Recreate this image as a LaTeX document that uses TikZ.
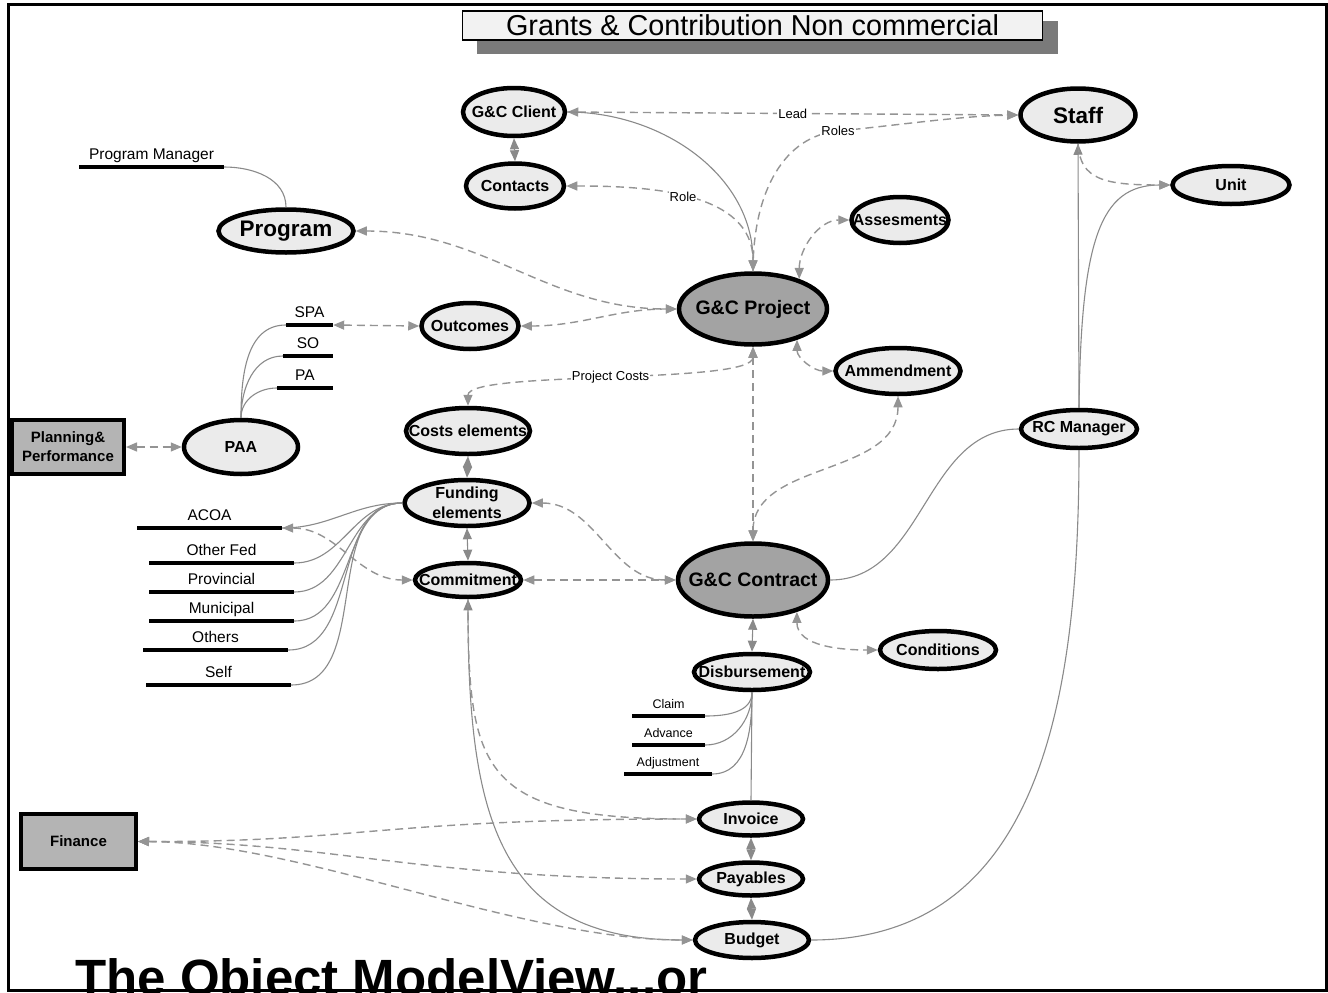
\documentclass[tikz,border=0pt]{standalone}
\usepackage{fontspec}
\setmainfont{Liberation Sans}
\usetikzlibrary{shapes.geometric,arrows.meta}

\definecolor{entfill}{HTML}{EBEBEB}
\definecolor{corefill}{HTML}{A3A3A3}
\definecolor{deptfill}{HTML}{B4B4B4}
\definecolor{linkgray}{HTML}{8A8A8A}
\definecolor{dashgray}{HTML}{949494}
\definecolor{shadowgray}{HTML}{7A7A7A}
\definecolor{titlefill}{HTML}{F2F2F2}

\newcommand\txtsize[1]{\fontsize{#1}{#1}\selectfont}

\begin{document}
\begin{tikzpicture}[x=1pt,y=-1pt,
  >={Triangle[length=11pt,width=9pt]},
  ent/.style={ellipse, draw=black, line width=4.5pt, fill=entfill, inner sep=0pt},
  core/.style={ent, fill=corefill},
  dept/.style={rectangle, draw=black, line width=4pt, fill=deptfill, inner sep=0pt,
    align=center, font=\bfseries\txtsize{15}},
  etxt/.style={font=\bfseries\txtsize{#1}, align=center, inner sep=0pt},
  etxt/.default=16,
  bar/.style={rectangle, fill=black, inner sep=0pt, minimum height=4pt},
  btxt/.style={font=\txtsize{#1}, inner sep=0pt, anchor=base},
  btxt/.default=15.5,
  link/.style={draw=linkgray, line width=1.1pt},
  dlink/.style={draw=dashgray, line width=1.4pt, dash pattern=on 8pt off 5pt},
  elbl/.style={fill=white, inner sep=1pt, font=\txtsize{13}}
]
\useasboundingbox (0,0) rectangle (1328,993);
\clip (0,0) rectangle (1328,993);

% outer frame
\draw[line width=3pt] (8,4) rectangle (1326,990);

% heading with drop shadow
\node[fill=shadowgray, minimum width=581, minimum height=33, inner sep=0pt] (title-shadow) at (767.5,37.5) {};
\node[draw=black, line width=1.2pt, fill=titlefill, minimum width=580, minimum height=29,
  inner sep=0pt, font=\txtsize{28.8}] (title) at (752.5,25.5) {Grants \& Contribution Non commercial};

% entities
\node[ent, minimum width=102, minimum height=48, label={[etxt]center:G\&C Client}] (client) at (514,112) {};
\node[ent, minimum width=98, minimum height=45, label={[etxt]center:Contacts}] (contacts) at (515,186) {};
\node[ent, minimum width=135, minimum height=43, label={[etxt=22.5]center:Program}] (program) at (286,231) {};
\node[ent, minimum width=115, minimum height=53, label={[etxt=22.5]center:Staff}] (staff) at (1078,115) {};
\node[ent, minimum width=117, minimum height=38, label={[etxt]center:Unit}] (unit) at (1231,185) {};
\node[ent, minimum width=97, minimum height=46, label={[etxt]center:Assesments}] (assess) at (900,220) {};
\node[core, minimum width=148, minimum height=71, label={[etxt=19.5]center:G\&C Project}] (project) at (753,309) {};
\node[ent, minimum width=97, minimum height=46, label={[etxt]center:Outcomes}] (outcomes) at (470,326) {};
\node[ent, minimum width=125, minimum height=46, label={[etxt]center:Ammendment}] (ammend) at (898,371) {};
\node[ent, minimum width=124, minimum height=46, label={[etxt]center:Costs elements}] (costs) at (468,431) {};
\node[ent, minimum width=114, minimum height=54, label={[etxt]center:PAA}] (paa) at (241,447) {};
\node[dept, minimum width=112, minimum height=54] (planning) at (68,447) {Planning\&\\[4pt]Performance};
\node[ent, minimum width=116, minimum height=38, label={[etxt]center:RC Manager}] (rcm) at (1079,429) {};
\node[ent, minimum width=125, minimum height=46, label={[etxt]center:Funding\\[4pt]elements}] (funding) at (467,503) {};
\node[ent, minimum width=106, minimum height=34, label={[etxt]center:Commitment}] (commit) at (468,580) {};
\node[core, minimum width=150, minimum height=73, label={[etxt=19.5]center:G\&C Contract}] (contract) at (753,580) {};
\node[ent, minimum width=116, minimum height=38, label={[etxt]center:Conditions}] (cond) at (938,650) {};
\node[ent, minimum width=116, minimum height=36, label={[etxt]center:Disbursement}] (disb) at (752,672) {};
\node[ent, minimum width=104, minimum height=33, label={[etxt]center:Invoice}] (invoice) at (751,819) {};
\node[ent, minimum width=104, minimum height=33, label={[etxt]center:Payables}] (payables) at (751,879) {};
\node[ent, minimum width=114, minimum height=36, label={[etxt]center:Budget}] (budget) at (752,940) {};
\node[dept, minimum width=115, minimum height=55] (finance) at (78.5,841.5) {Finance};

% attribute bars with their captions
\node[bar, minimum width=145] (pmgr) at (151.5,167) {};
\node[btxt] (pmgr-t) at ([yshift=5pt]pmgr.north) {Program Manager};
\node[bar, minimum width=47] (spa) at (309.5,325) {};
\node[btxt] (spa-t) at ([yshift=5pt]spa.north) {SPA};
\node[bar, minimum width=50] (so) at (308,356) {};
\node[btxt] (so-t) at ([yshift=5pt]so.north) {SO};
\node[bar, minimum width=56] (pa) at (305,388) {};
\node[btxt] (pa-t) at ([yshift=5pt]pa.north) {PA};
\node[bar, minimum width=145] (acoa) at (209.5,528) {};
\node[btxt] (acoa-t) at ([yshift=5pt]acoa.north) {ACOA};
\node[bar, minimum width=145] (ofed) at (221.5,563) {};
\node[btxt] (ofed-t) at ([yshift=5pt]ofed.north) {Other Fed};
\node[bar, minimum width=145] (prov) at (221.5,592) {};
\node[btxt] (prov-t) at ([yshift=5pt]prov.north) {Provincial};
\node[bar, minimum width=145] (muni) at (221.5,621) {};
\node[btxt] (muni-t) at ([yshift=5pt]muni.north) {Municipal};
\node[bar, minimum width=145] (oth) at (215.5,650) {};
\node[btxt] (oth-t) at ([yshift=5pt]oth.north) {Others};
\node[bar, minimum width=145] (self) at (218.5,685) {};
\node[btxt] (self-t) at ([yshift=5pt]self.north) {Self};
\node[bar, minimum width=73] (claim) at (668.5,716) {};
\node[btxt=12.5] (claim-t) at ([yshift=5pt]claim.north) {Claim};
\node[bar, minimum width=73] (adv) at (668.5,745) {};
\node[btxt=12.5] (adv-t) at ([yshift=5pt]adv.north) {Advance};
\node[bar, minimum width=88] (adj) at (668,774) {};
\node[btxt=12.5] (adj-t) at ([yshift=5pt]adj.north) {Adjustment};

% attribute links
\draw[link] (pmgr.east) to[out=0,in=90] (program.north);
\foreach \b in {spa,so,pa} \draw[link] (paa.north) to[out=90,in=180] (\b.west);
\foreach \b in {acoa,ofed,prov,muni,oth,self} \draw[link] (funding.west) to[out=180,in=0] (\b.east);
\foreach \b in {claim,adv,adj} \draw[link] (disb.south) to[out=-90,in=0] (\b.east);
\draw[link] (disb.south) -- (invoice.north);

% stacked one-to-one links
\draw[link,<->] (client.south) -- (contacts.north);
\draw[link,<->] (costs.south) -- (funding.north);
\draw[link,<->] (funding.south) -- (commit.north);
\draw[link,<->] (contract.south) -- (disb.north);
\draw[link,<->] (invoice.south) -- (payables.north);
\draw[link,<->] (payables.south) -- (budget.north);

% client, contacts and staff
\draw[dlink,<->] (client.east) -- node[elbl]{Lead} (staff.west);
\draw[link,->] (client.east) to[out=0,in=90] (project.north);
\draw[dlink,<->] (contacts.east) to[out=0,in=90] node[elbl,pos=0.47]{Role} (project.north);
\draw[dlink,->] (project.north) .. controls (753,190) and (785,136) .. (838,131) node[elbl]{Roles}
  .. controls (900,125) and (960,116) .. (staff.west);

% project relations
\draw[dlink,<->] (project.33) to[out=90,in=180] (assess.west);
\draw[dlink,<->] (project.-35) to[out=-90,in=180] (ammend.west);
\draw[dlink,<->] (program.east) to[out=0,in=180] (project.west);
\draw[dlink,<->] (outcomes.east) to[out=0,in=180] (project.west);
\draw[dlink,<->] (spa.east) -- (outcomes.west);
\draw[dlink,<->] (planning.east) -- (paa.west);
\draw[dlink,<->] (project.south) .. controls (753,385) and (468,370) .. node[elbl]{Project Costs} (costs.north);
\draw[dlink,<->] (project.south) -- (contract.north);
\draw[dlink,<->] (ammend.south) to[out=-90,in=90] (contract.north);

% contract relations
\draw[dlink,<->] (funding.east) to[out=0,in=180] (contract.west);
\draw[dlink,<->] (commit.east) -- (contract.west);
\draw[dlink,<->] (acoa.east) to[out=0,in=180] (commit.west);
\draw[dlink,<->] (contract.-36) to[out=-90,in=180] (cond.west);
\draw[link] (contract.east) to[out=0,in=180] (rcm.west);

% responsibility centre
\draw[link,->] (rcm.north) -- (staff.south);
\draw[link,->] (rcm.north) .. controls (1081,240) and (1100,185) .. (unit.west);
\draw[dlink,->] (staff.south) .. controls (1080,180) and (1105,185) .. (unit.west);
\draw[link] (budget.east) .. controls (1040,940) and (1079,700) .. (rcm.south);

% finance side
\draw[link,<->] (commit.south) .. controls (468,820) and (500,940) .. (budget.west);
\draw[dlink,->] (commit.south) .. controls (468,770) and (480,819) .. (invoice.west);
\draw[dlink,<->] (finance.east) .. controls (360,842) and (380,819) .. (invoice.west);
\draw[dlink,<->] (finance.east) .. controls (330,842) and (420,879) .. (payables.west);
\draw[dlink,<->] (finance.east) .. controls (300,842) and (520,940) .. (budget.west);

% caption along the lower edge
\node[font=\bfseries\txtsize{51}, anchor=base west, inner sep=0pt] (caption) at (75,995) {The Object ModelView...or};
\end{tikzpicture}
\end{document}
